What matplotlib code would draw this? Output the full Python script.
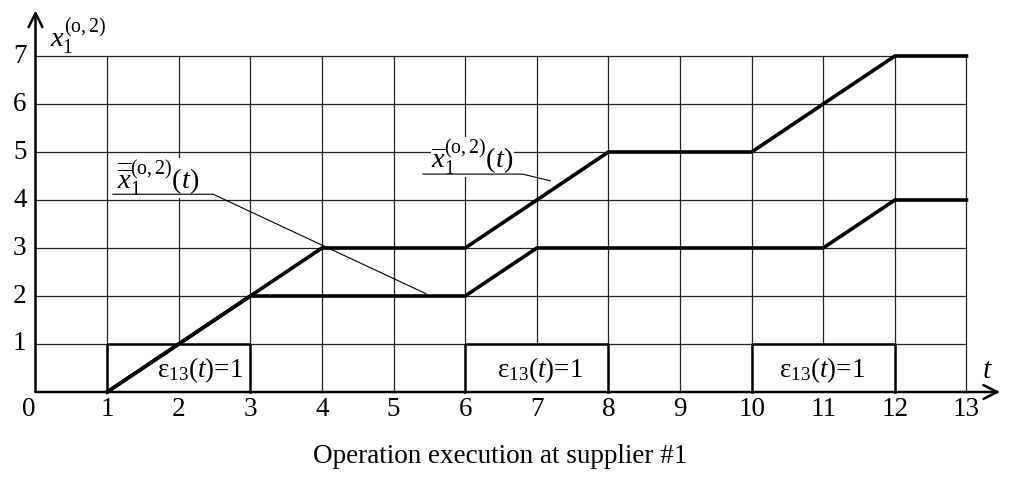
import matplotlib
matplotlib.use("Agg")
import matplotlib.pyplot as plt

plt.rcParams['font.family'] = ['Liberation Serif', 'DejaVu Serif']
plt.rcParams['mathtext.fontset'] = 'custom'
plt.rcParams['mathtext.rm'] = 'Liberation Serif'
plt.rcParams['mathtext.it'] = 'Liberation Serif:italic'
plt.rcParams['mathtext.bf'] = 'Liberation Serif:bold'

# ---- data ----
t_ticks = list(range(0, 14))
y_ticks = list(range(1, 8))
upper_t = [1, 4, 6, 8, 10, 12, 13]
upper_x = [0, 3, 3, 5, 5, 7, 7]
lower_t = [1, 3, 6, 7, 11, 12, 13]
lower_x = [0, 2, 2, 3, 3, 4, 4]
eps_start = [1, 6, 10]
eps_end = [3, 8, 12]
eps_level = 1
eps_label = 'ε$_{13}$($t$)=1'
upper_label = r'$\overline{x}_1^{(\mathrm{o},2)}(t)$'
lower_label = r'$\overline{\overline{x}}_1^{(\mathrm{o},2)}(t)$'
y_label = r'$x_1^{(\mathrm{o},2)}$'
x_label = r'$t$'
caption = 'Operation execution at supplier #1'

FS = 19.5
eps_text_shift = [0.3, 0.05, -0.02]

fig = plt.figure(figsize=(10.13, 4.83), dpi=100)
ax = fig.add_axes([0, 0, 1, 1])
ax.set_xlim(-0.496, 13.65)
ax.set_ylim(-1.896, 8.167)
ax.set_axis_off()

tmax = t_ticks[-1]
ymax = y_ticks[-1]
# grid
for t in t_ticks[1:]:
    ax.plot([t, t], [0, ymax], color='#222222', lw=0.9, zorder=1)
for y in y_ticks:
    ax.plot([0, tmax], [y, y], color='#222222', lw=0.9, zorder=1)

# axes with arrows
ax.annotate('', xy=(13.47, 0), xytext=(0, 0),
            arrowprops=dict(arrowstyle='->', lw=1.8, color='black', mutation_scale=25, shrinkA=0, shrinkB=0), zorder=3)
ax.annotate('', xy=(0, 7.95), xytext=(0, 0),
            arrowprops=dict(arrowstyle='->', lw=1.8, color='black', mutation_scale=25, shrinkA=0, shrinkB=0), zorder=3)

# epsilon boxes
for s, e, dx in zip(eps_start, eps_end, eps_text_shift):
    ax.fill([s, s, e, e], [0, eps_level, eps_level, 0], color='white', zorder=2)
    ax.plot([s, s, e, e], [0, eps_level, eps_level, 0], color='black', lw=1.8, zorder=2.5)
    ax.text((s + e) / 2 + dx, eps_level * 0.46, eps_label, fontsize=FS,
            ha='center', va='center', zorder=4)

# series
ax.plot(upper_t, upper_x, color='black', lw=2.6, solid_joinstyle='miter', zorder=5)
ax.plot(lower_t, lower_x, color='black', lw=2.6, solid_joinstyle='miter', zorder=5)

# tick labels
for t in t_ticks:
    ax.text(t - (0.09 if t == 0 else 0), -0.375, str(t), fontsize=FS, ha='center', va='center')
for y in y_ticks:
    ax.text(-0.22, y, str(y), fontsize=FS, ha='center', va='center')

# annotation for upper line
ax.text(6.1, 4.9, upper_label, fontsize=FS + 1, ha='center', va='center', zorder=6,
        bbox=dict(facecolor='white', edgecolor='none', pad=0))
ax.plot([5.41, 6.8, 7.19], [4.54, 4.54, 4.4], color='black', lw=0.8, zorder=6)

# annotation for lower line
ax.text(1.71, 4.46, lower_label, fontsize=FS + 1, ha='center', va='center', zorder=6,
        bbox=dict(facecolor='white', edgecolor='none', pad=0))
ax.plot([1.08, 2.48, 5.45], [4.12, 4.12, 2.05], color='black', lw=0.8, zorder=6)

# axis labels
ax.text(0.6, 7.42, y_label, fontsize=FS + 1, ha='center', va='center')
ax.text(13.3, 0.44, x_label, fontsize=FS + 2, ha='center', va='center')

ax.text(6.49, -1.35, caption, fontsize=FS, ha='center', va='center')

fig.savefig('out.png', dpi=100)
